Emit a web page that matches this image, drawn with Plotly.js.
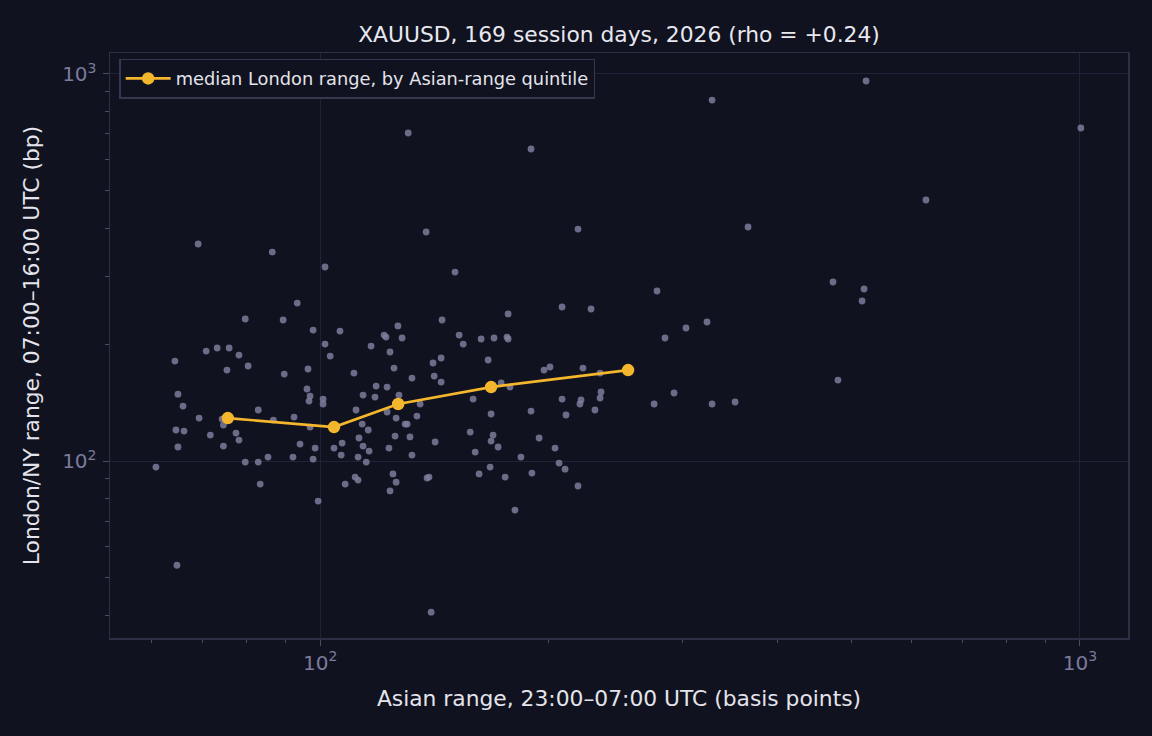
<!DOCTYPE html>
<html>
<head>
<meta charset="utf-8">
<script src="https://cdn.plot.ly/plotly-3.0.1.min.js"></script>
<style>
  html, body { margin: 0; padding: 0; background: #10121f; }
  #chart { width: 1152px; height: 736px; }
</style>
</head>
<body>
<div id="chart"></div>
<script>
// Asian-session range (bp) per session day
const asianRange = [
  60.8, 64.8, 64.4, 65.0, 64.6, 65.0, 66.0, 66.2, 69.1, 69.3,
  70.8, 71.7, 73.2, 74.3, 74.6, 74.6, 75.4, 75.9, 77.5, 78.2,
  78.2, 79.7, 79.7, 80.4, 82.9, 82.9, 83.4, 85.4, 86.5, 86.8,
  89.4, 89.7, 92.1, 92.4, 93.3, 94.1, 96.1, 96.4, 96.7, 97.0,
  97.0, 97.9, 97.9, 98.5, 99.4, 100.9, 100.9, 101.5, 101.5, 103.1,
  104.3, 106.2, 106.9, 106.6, 107.9, 110.8, 111.5, 111.2, 112.2, 112.2,
  112.5, 113.9, 113.6, 113.9, 115.7, 116.0, 115.0, 116.7, 118.1, 118.5,
  121.4, 122.1, 122.5, 122.5, 123.6, 123.2, 123.6, 124.7, 125.1, 125.9,
  125.5, 126.6, 127.0, 125.9, 128.2, 129.4, 130.2, 130.6, 131.3, 132.1,
  132.1, 134.1, 135.4, 137.9, 138.3, 139.1, 140.0, 140.8, 141.3, 141.7,
  144.3, 144.3, 144.7, 150.5, 152.4, 154.3, 157.6, 159.0, 160.0, 161.9,
  162.9, 166.4, 167.4, 167.9, 167.9, 168.9, 169.4, 171.5, 173.1, 175.2,
  176.2, 176.8, 177.8, 180.5, 183.8, 189.5, 189.5, 190.0, 194.2, 197.1,
  200.7, 203.8, 206.3, 208.2, 210.1, 210.7, 208.2, 218.5, 218.5, 219.8,
  220.5, 221.8, 227.3, 230.0, 234.3, 233.6, 233.6, 275.2, 277.6, 284.4,
  292.3, 303.1, 323.0, 328.0, 328.0, 351.7, 365.8, 473.2, 480.4, 516.8,
  519.9, 523.1, 627.2, 1003, 176.8, 75.6, 104.3, 126.7, 167.9
];
// London/NY-session range (bp) for the same days
const londonRange = [
  96.5, 53.8, 181.3, 148.9, 120.3, 108.7, 138.7, 119.5, 363.7, 129.1,
  192.4, 116.7, 195.9, 128.4, 123.9, 109.3, 171.8, 195.9, 118.1, 113.3,
  187.8, 232.8, 99.4, 176.0, 135.5, 99.4, 87.2, 102.4, 346.7, 127.6,
  231.4, 167.8, 102.4, 129.9, 256.0, 110.6, 153.5, 172.9, 142.9, 147.2,
  122.4, 101.2, 218.0, 108.0, 78.8, 144.6, 140.4, 317.2, 200.6, 186.7,
  108.0, 216.7, 111.3, 103.6, 87.2, 168.8, 135.5, 90.9, 89.3, 102.4,
  114.7, 148.1, 124.6, 109.3, 120.3, 106.1, 99.4, 198.2, 146.3, 156.2,
  211.6, 209.1, 155.3, 133.9, 191.3, 108.0, 83.7, 92.6, 173.9, 88.2,
  116.0, 223.4, 148.1, 129.1, 207.9, 124.6, 124.6, 703.9, 115.4, 163.8,
  103.6, 130.7, 140.4, 390.6, 90.4, 90.9, 40.7, 179.2, 165.8, 112.0,
  184.6, 160.0, 231.4, 307.8, 211.6, 200.6, 118.8, 144.6, 105.5, 92.6,
  206.7, 182.4, 96.5, 132.3, 112.6, 116.7, 207.9, 108.7, 159.1, 90.9,
  209.1, 239.9, 155.3, 74.7, 102.4, 640.0, 134.6, 93.1, 114.7, 171.8,
  175.0, 108.0, 98.8, 144.6, 95.3, 131.5, 250.0, 86.2, 397.6, 140.4,
  143.8, 173.9, 247.1, 135.5, 150.8, 145.5, 168.8, 140.4, 275.0, 207.9,
  149.9, 220.7, 228.7, 140.4, 856.5, 142.1, 402.4, 290.1, 161.9, 259.1,
  278.3, 959.2, 472.6, 725.3, 206.7, 129.1, 122.4, 140.4, 155.3
];
// Quintile medians
const quintileAsian = [75.6, 104.3, 126.7, 167.9, 254.3];
const quintileLondon = [129.1, 122.4, 140.4, 155.3, 171.8];

const titleText = "XAUUSD, 169 session days, 2026 (rho = +0.24)";
const xTitle = "Asian range, 23:00–07:00 UTC (basis points)";
const yTitle = "London/NY range, 07:00–16:00 UTC (bp)";
const legendName = "median London range, by Asian-range quintile";
const majorTicks = [100, 1000];
const majorLabels = ["10<sup>2</sup>", "10<sup>3</sup>"];
const xMinor = [60, 70, 80, 90, 200, 300, 400, 500, 600, 700, 800, 900];
const yMinor = [40, 50, 60, 70, 80, 90, 200, 300, 400, 500, 600, 700, 800, 900];

const BG = "#10121f";
const FONT = "DejaVu Sans, sans-serif";
const TICKC = "#7b7b9e";
const FRAME = "#2d2f45";

const traces = [
  {
    x: asianRange, y: londonRange, type: "scatter", mode: "markers",
    marker: { color: "#7c7c9c", size: 6.8, opacity: 0.85 },
    showlegend: false, hoverinfo: "skip"
  },
  {
    x: quintileAsian, y: quintileLondon, type: "scatter", mode: "lines+markers",
    name: legendName,
    line: { color: "#f4b62c", width: 2.7 },
    marker: { color: "#f4b62c", size: 12.5 }
  }
];

function axis(range, minorVals, titleText, standoff) {
  return {
    type: "log",
    range: range,
    tickmode: "array",
    tickvals: majorTicks,
    ticktext: majorLabels,
    ticks: "outside", ticklen: 6, tickwidth: 1, tickcolor: "#4a4c64",
    tickfont: { family: FONT, size: 20, color: TICKC },
    showgrid: true, gridcolor: "#20223a", gridwidth: 1,
    zeroline: false,
    showline: true, linecolor: FRAME, linewidth: 1.5, mirror: true,
    minor: { tickmode: "array", tickvals: minorVals, ticks: "outside", ticklen: 3.5, tickwidth: 1, tickcolor: "#4a4c64", showgrid: false },
    title: { text: titleText, font: { family: FONT, size: 21.8, color: "#e4e4ec" }, standoff: standoff },
    automargin: false
  };
}

const xAxis = axis([Math.log10(52.9), Math.log10(1157)], xMinor, xTitle, 17);
const yAxis = axis([Math.log10(34.9), Math.log10(1133)], yMinor, yTitle, 16);
yAxis.ticklabelstandoff = 2;

const layout = {
  width: 1152, height: 736,
  paper_bgcolor: BG, plot_bgcolor: BG,
  margin: { l: 110, r: 24, t: 53, b: 98 },
  title: {
    text: titleText,
    font: { family: FONT, size: 21.8, color: "#e8e8f0" },
    x: 0.5, xref: "paper", xanchor: "center",
    y: 1 - 34 / 736, yref: "container", yanchor: "middle"
  },
  xaxis: xAxis,
  yaxis: yAxis,
  showlegend: true,
  legend: {
    x: 0.009, y: 0.99, xanchor: "left", yanchor: "top",
    bgcolor: BG, bordercolor: "#363850", borderwidth: 1.5,
    itemwidth: 45,
    font: { family: FONT, size: 17.8, color: "#e4e4ec" }
  }
};

Plotly.newPlot("chart", traces, layout, { displayModeBar: false, staticPlot: true });
</script>
</body>
</html>
